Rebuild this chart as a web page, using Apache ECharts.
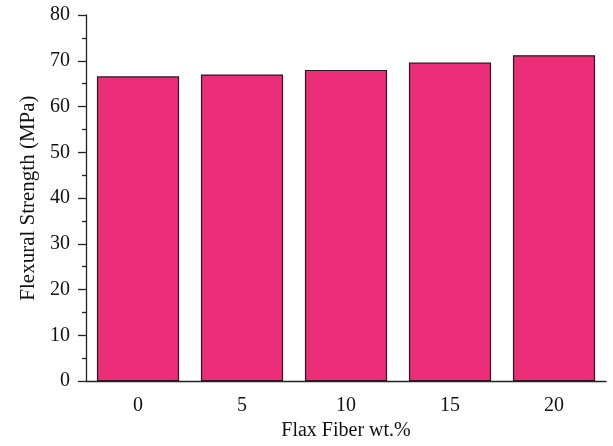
<!DOCTYPE html>
<html><head><meta charset="utf-8">
<script src="https://cdn.jsdelivr.net/npm/echarts@6/dist/echarts.min.js"></script>
<style>html,body{margin:0;padding:0;background:#fff}#c{width:613px;height:446px}</style>
</head><body><div id="c"></div>
<script>
const categories = ['0', '5', '10', '15', '20'];
const strength = [66.6, 67.0, 68.0, 69.6, 71.2];
const yTicks = [0, 10, 20, 30, 40, 50, 60, 70, 80];

const font = 'Liberation Serif';
const axisColor = '#222';
const chart = echarts.init(document.getElementById('c'), null, {renderer: 'canvas'});
chart.setOption({
  animation: false,
  grid: {left: 86, top: 15, right: 7, bottom: 63},
  xAxis: [{
    type: 'category', data: categories, position: 'bottom',
    name: 'Flax Fiber wt.%', nameLocation: 'middle', nameGap: 39,
    nameTextStyle: {fontFamily: font, fontSize: 20, color: '#111'},
    axisLine: {lineStyle: {color: axisColor, width: 1.3}},
    axisTick: {alignWithLabel: true, length: 7, lineStyle: {color: axisColor, width: 1.3}},
    axisLabel: {fontFamily: font, fontSize: 20, color: '#111', margin: 15},
    splitLine: {show: false}
  }, {
    type: 'category', data: categories, position: 'bottom',
    axisLine: {show: false},
    axisTick: {length: 3, lineStyle: {color: axisColor, width: 1.3}},
    axisLabel: {show: false},
    splitLine: {show: false}
  }],
  yAxis: {
    type: 'value', min: yTicks[0], max: yTicks[yTicks.length - 1], interval: 10,
    name: 'Flexural Strength (MPa)', nameLocation: 'middle', nameGap: 47, nameRotate: 90,
    nameTextStyle: {fontFamily: font, fontSize: 21, color: '#111'},
    axisLine: {show: true, lineStyle: {color: axisColor, width: 1.3}},
    axisTick: {show: true, length: 8, lineStyle: {color: axisColor, width: 1.3}},
    minorTick: {show: true, splitNumber: 2, length: 4, lineStyle: {color: axisColor, width: 1.3}},
    axisLabel: {fontFamily: font, fontSize: 20, color: '#111', margin: 16},
    splitLine: {show: false}
  },
  series: [{
    type: 'bar', data: strength, xAxisIndex: 0, barCategoryGap: '21%',
    itemStyle: {color: '#EC2D78', borderColor: '#2a1520', borderWidth: 1.2}
  }]
});
</script></body></html>
